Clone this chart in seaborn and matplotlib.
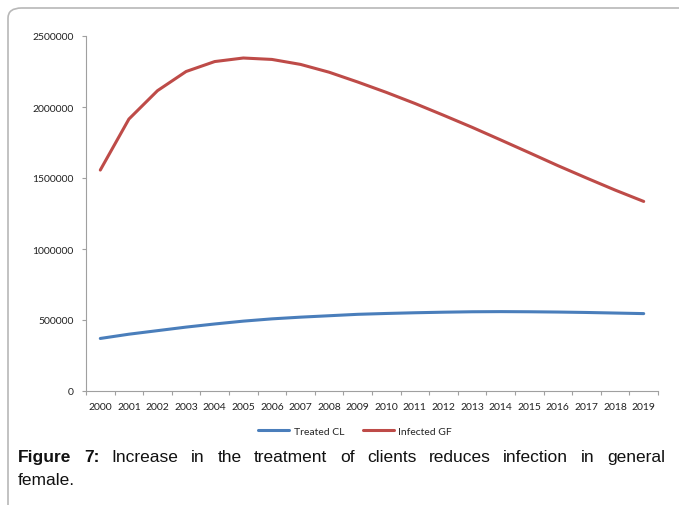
import numpy as np
import pandas as pd
import seaborn as sns
import matplotlib.pyplot as plt
from matplotlib.patches import FancyBboxPatch

years = [str(y) for y in range(2000, 2020)]
treated_cl = [370000, 400000, 425000, 450000, 472000, 492000, 508000, 520000, 530000, 540000,
              546000, 551000, 555000, 558000, 559000, 558000, 556000, 553000, 549000, 545000]
infected_gf = [1556000, 1915000, 2115000, 2250000, 2320000, 2345000, 2335000, 2300000, 2245000, 2176000,
               2103000, 2025000, 1942000, 1857000, 1768000, 1678000, 1587000, 1500000, 1415000, 1335000]
y_ticks = [0, 500000, 1000000, 1500000, 2000000, 2500000]

df = pd.DataFrame({
    'pos': list(range(len(years))) * 2,
    'value': treated_cl + infected_gf,
    'series': ['Treated CL'] * len(years) + ['Infected GF'] * len(years),
})

sns.set_style('white')
plt.rcParams['font.family'] = ['Lato', 'DejaVu Sans']

fig = plt.figure(figsize=(6.79, 5.06), dpi=100)

# page frame
frame = FancyBboxPatch((8 / 679, -0.05), 1.1, 1 - 9 / 506 + 0.05,
                       boxstyle='round,pad=0,rounding_size=0.02', transform=fig.transFigure,
                       facecolor='none', edgecolor='#b8b8b8', linewidth=1.2, zorder=0)
fig.patches.append(frame)

ax = fig.add_axes([86 / 679, (506 - 392) / 506, (658 - 86) / 679, (392 - 37) / 506])
ax.set_facecolor('none')
sns.lineplot(data=df, x='pos', y='value', hue='series', ax=ax,
             palette={'Treated CL': '#4a7ebb', 'Infected GF': '#be4b48'},
             linewidth=2.2, legend=False)

ax.set_xlim(-0.5, len(years) - 0.5)
ax.set_ylim(0, 2500000)
ax.set_yticks(y_ticks)
ax.set_yticklabels([str(v) for v in y_ticks], fontsize=7.5, color='#222222')
ax.set_xticks(range(len(years)))
ax.set_xticklabels(years, fontsize=7.5, color='#222222')
ax.set_xticks(np.arange(-0.5, len(years)), minor=True)
ax.tick_params(axis='x', which='major', bottom=True, length=0, pad=8)
ax.tick_params(axis='x', which='minor', bottom=True, length=3, color='#a0a0a0', width=0.8)
ax.tick_params(axis='y', which='major', left=True, length=3, color='#a0a0a0', width=0.8, pad=6)
ax.set_xlabel('')
ax.set_ylabel('')
for s in ['top', 'right']:
    ax.spines[s].set_visible(False)
for s in ['left', 'bottom']:
    ax.spines[s].set_color('#a0a0a0')
    ax.spines[s].set_linewidth(0.8)

# legend
handles = [plt.Line2D([], [], color='#4a7ebb', lw=2.2), plt.Line2D([], [], color='#be4b48', lw=2.2)]
fig.legend(handles, ['Treated CL', 'Infected GF'], loc='center', ncol=2,
           bbox_to_anchor=(355 / 679, 1 - 432 / 506), frameon=False, fontsize=7.5,
           handlelength=3.0, handletextpad=0.4, columnspacing=1.8)

# caption, justified first line
cap_font = ['Liberation Sans Narrow', 'Liberation Sans', 'DejaVu Sans']
line1 = [('Figure', 'bold'), ('7:', 'bold'), ('Increase', 'normal'), ('in', 'normal'), ('the', 'normal'),
         ('treatment', 'normal'), ('of', 'normal'), ('clients', 'normal'), ('reduces', 'normal'),
         ('infection', 'normal'), ('in', 'normal'), ('general', 'normal')]
x0, x1 = 18 / 679, 665 / 679
y1 = 1 - 462 / 506
fig.canvas.draw()
renderer = fig.canvas.get_renderer()
texts = []
for w, wt in line1:
    t = fig.text(0, y1, w, fontsize=12.5, fontweight=wt, family=cap_font, color='#111111')
    texts.append(t)
widths = [t.get_window_extent(renderer).width / fig.bbox.width for t in texts]
gap = ((x1 - x0) - sum(widths)) / (len(texts) - 1)
xx = x0
for t, w in zip(texts, widths):
    t.set_x(xx)
    xx += w + gap
fig.text(x0, 1 - 485 / 506, 'female.', fontsize=12.5, family=cap_font, color='#111111')

fig.savefig('out.png', dpi=100)
